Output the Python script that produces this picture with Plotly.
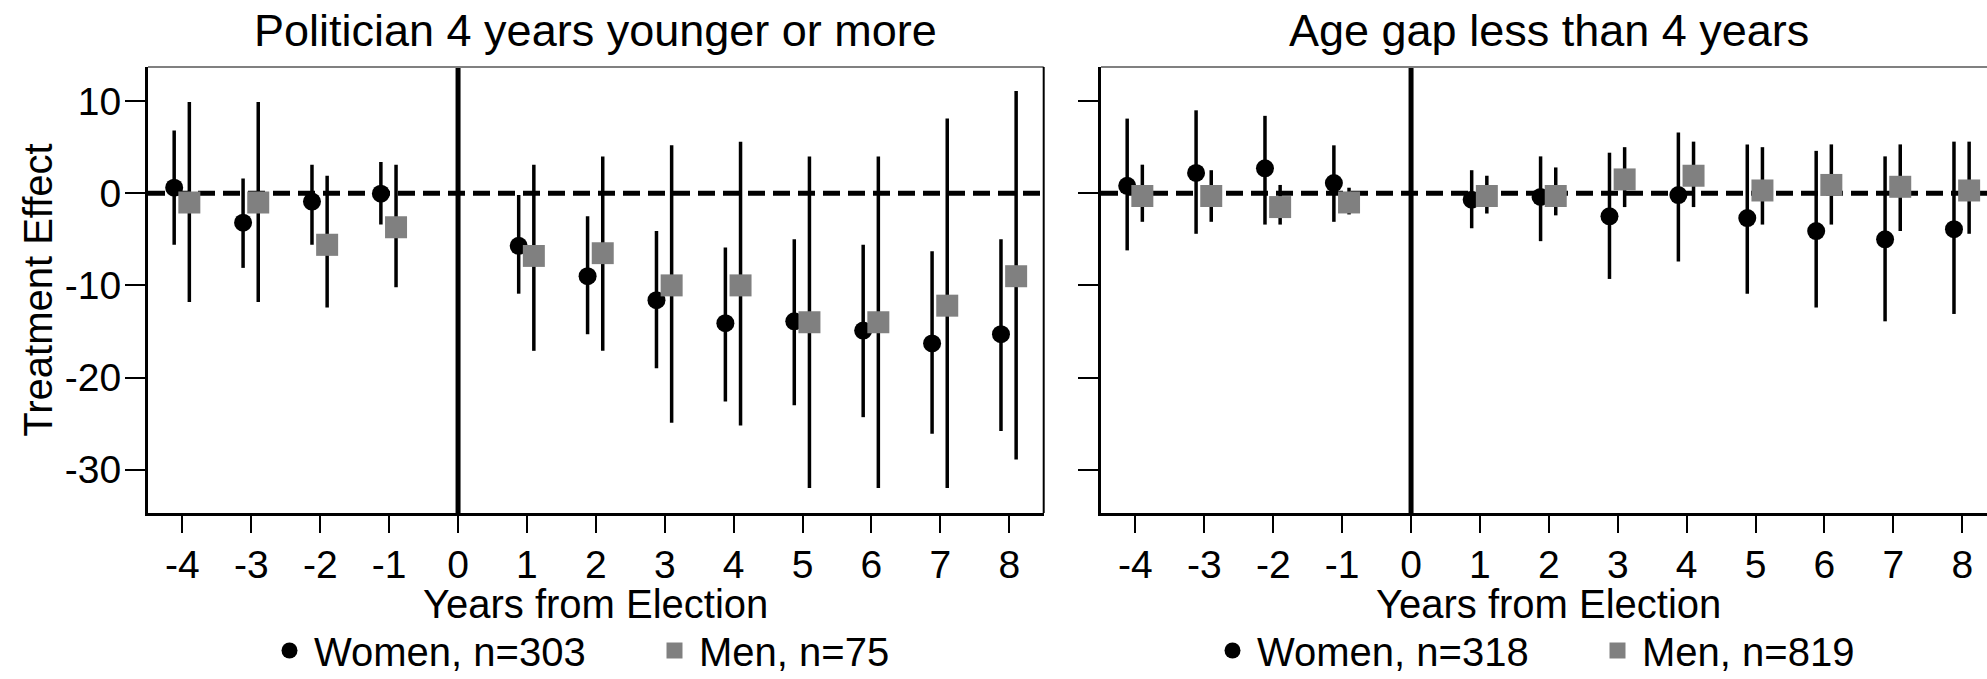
import numpy as np
import plotly.graph_objects as go

# ---------------- data ----------------
years = [-4, -3, -2, -1, 1, 2, 3, 4, 5, 6, 7, 8]
xtick_vals = list(range(-4, 9))
xtick_text = [str(v) for v in xtick_vals]
ytick_vals = [10, 0, -10, -20, -30]
ytick_text = ["10", "0", "-10", "-20", "-30"]

panel_titles = ["Politician 4 years younger or more", "Age gap less than 4 years"]
x_title = "Years from Election"
y_title = "Treatment Effect"
legend_names = [["Women, n=303", "Men, n=75"], ["Women, n=318", "Men, n=819"]]

# Panel 1: Politician 4 years younger or more
young_women_est = [0.6, -3.2, -0.9, -0.05, -5.7, -9.0, -11.6, -14.1, -13.9, -14.9, -16.3, -15.3]
young_women_lo = [-5.6, -8.1, -5.6, -3.4, -10.9, -15.3, -19.0, -22.6, -23.0, -24.3, -26.1, -25.8]
young_women_hi = [6.8, 1.6, 3.1, 3.4, -0.2, -2.5, -4.1, -5.9, -5.0, -5.6, -6.3, -5.0]
young_men_est = [-1.0, -1.0, -5.6, -3.7, -6.8, -6.5, -10.0, -10.0, -14.0, -14.0, -12.2, -9.0]
young_men_lo = [-11.8, -11.8, -12.4, -10.2, -17.1, -17.1, -24.9, -25.2, -32.0, -32.0, -32.0, -28.9]
young_men_hi = [9.9, 9.9, 1.9, 3.1, 3.1, 4.0, 5.2, 5.6, 4.0, 4.0, 8.1, 11.1]

# Panel 2: Age gap less than 4 years
gap_women_est = [0.8, 2.2, 2.7, 1.1, -0.7, -0.4, -2.5, -0.2, -2.7, -4.1, -5.0, -3.9]
gap_women_lo = [-6.2, -4.4, -3.4, -3.1, -3.8, -5.2, -9.3, -7.4, -10.9, -12.4, -13.9, -13.1]
gap_women_hi = [8.1, 9.0, 8.4, 5.2, 2.5, 4.0, 4.4, 6.6, 5.3, 4.6, 4.0, 5.6]
gap_men_est = [-0.3, -0.3, -1.5, -1.0, -0.3, -0.3, 1.5, 1.9, 0.3, 0.9, 0.7, 0.3]
gap_men_lo = [-3.1, -3.1, -3.4, -2.3, -2.2, -2.4, -1.5, -1.5, -3.4, -3.4, -4.1, -4.4]
gap_men_hi = [3.1, 2.5, 0.9, 0.6, 1.9, 2.8, 5.0, 5.6, 5.0, 5.3, 5.3, 5.6]

# ---------------- style ----------------
FONT = "Liberation Sans, Arial, sans-serif"
W, H = 1987, 679
ML, MR, MT, MB = 148, 0, 67, 166
PW = W - ML - MR
PH = H - MT - MB
WOMEN_OFF, MEN_OFF = -0.12, 0.10
GRAY = "#808080"


def px_x(p):
    return (p - ML) / PW


def px_y(p):
    return (H - MB - p) / PH


dom1 = [0, px_x(1043.7)]
dom2 = [px_x(1101), 1]
xr1 = [-4.5, 8.5]
xr2 = [-4.5, -4.5 + (W - 1101) / ((1043.7 - 148) / 13.0)]
yr = [-34.7, 13.7]

fig = go.Figure()

panels = [
    ("x", "y", "legend", young_women_est, young_women_lo, young_women_hi,
     young_men_est, young_men_lo, young_men_hi, legend_names[0]),
    ("x2", "y2", "legend2", gap_women_est, gap_women_lo, gap_women_hi,
     gap_men_est, gap_men_lo, gap_men_hi, legend_names[1]),
]

for xa, ya, lg, w_est, w_lo, w_hi, m_est, m_lo, m_hi, names in panels:
    w_est_a, w_lo_a, w_hi_a = map(np.array, (w_est, w_lo, w_hi))
    m_est_a, m_lo_a, m_hi_a = map(np.array, (m_est, m_lo, m_hi))
    fig.add_trace(go.Scatter(
        x=np.array(years) + WOMEN_OFF, y=w_est_a, mode="markers", name=names[0],
        marker=dict(symbol="circle", size=18, color="black"),
        error_y=dict(type="data", symmetric=False, array=w_hi_a - w_est_a,
                     arrayminus=w_est_a - w_lo_a, width=0, thickness=3.5, color="black"),
        xaxis=xa, yaxis=ya, legend=lg, cliponaxis=True,
    ))
    fig.add_trace(go.Scatter(
        x=np.array(years) + MEN_OFF, y=m_est_a, mode="markers", name=names[1],
        marker=dict(symbol="square", size=22, color=GRAY),
        error_y=dict(type="data", symmetric=False, array=m_hi_a - m_est_a,
                     arrayminus=m_est_a - m_lo_a, width=0, thickness=3.5, color="black"),
        xaxis=xa, yaxis=ya, legend=lg, cliponaxis=True,
    ))

axis_common = dict(showgrid=False, zeroline=False, showline=True, linecolor="black",
                   linewidth=3, ticks="outside", tickcolor="black", tickwidth=2,
                   tickfont=dict(family=FONT, size=39, color="black"))

legend_common = dict(orientation="h", xanchor="left", y=px_y(683), yanchor="bottom",
                     font=dict(family=FONT, size=40), bgcolor="rgba(0,0,0,0)",
                     entrywidth=331, itemwidth=39, tracegroupgap=0)

fig.update_layout(
    width=W, height=H,
    margin=dict(l=ML, r=MR, t=MT, b=MB, pad=0, autoexpand=False),
    paper_bgcolor="white", plot_bgcolor="white",
    font=dict(family=FONT, color="black"),
    xaxis=dict(domain=dom1, range=xr1, tickmode="array", tickvals=xtick_vals, ticktext=xtick_text,
               ticklen=17, anchor="y", ticklabelstandoff=-2, **axis_common),
    xaxis2=dict(domain=dom2, range=xr2, tickmode="array", tickvals=xtick_vals, ticktext=xtick_text,
                ticklen=17, anchor="y2", ticklabelstandoff=-2, **axis_common),
    yaxis=dict(domain=[0, 1], range=yr, tickmode="array", tickvals=ytick_vals, ticktext=ytick_text,
               ticklen=20, anchor="x", ticklabelstandoff=-4,
               title=dict(text=y_title, font=dict(family=FONT, size=40), standoff=0),
               **axis_common),
    yaxis2=dict(domain=[0, 1], range=yr, tickmode="array", tickvals=ytick_vals, ticktext=ytick_text,
                ticklen=20, anchor="x2", showticklabels=False, **axis_common),
    legend=dict(x=px_x(265), **legend_common),
    legend2=dict(x=px_x(1208), **legend_common),
    showlegend=True,
)

shapes = []
for xa, ya in (("x", "y"), ("x2", "y2")):
    # dashed zero line
    shapes.append(dict(type="line", xref=f"{xa} domain", x0=0, x1=1, yref=ya, y0=0, y1=0,
                       line=dict(color="black", width=5, dash="17px,8px"), layer="below"))
    # vertical line at election
    shapes.append(dict(type="line", xref=xa, x0=0, x1=0, yref=f"{ya} domain", y0=0, y1=1,
                       line=dict(color="black", width=5), layer="below"))
    # top frame (gray)
    shapes.append(dict(type="line", xref=f"{xa} domain", x0=0, x1=1, yref=f"{ya} domain", y0=1, y1=1,
                       line=dict(color=GRAY, width=2), layer="above"))
# right frame of left panel
shapes.append(dict(type="line", xref="x domain", x0=1, x1=1, yref="y domain", y0=0, y1=1,
                   line=dict(color="black", width=2), layer="above"))
fig.update_layout(shapes=shapes)

annotations = []
for title, cx in zip(panel_titles, (595.5, 1549)):
    annotations.append(dict(text=title, xref="paper", yref="paper", x=px_x(cx), y=px_y(31),
                            xanchor="center", yanchor="middle", showarrow=False,
                            font=dict(family=FONT, size=45, color="black")))
for cx in (595, 1548):
    annotations.append(dict(text=x_title, xref="paper", yref="paper", x=px_x(cx), y=px_y(604),
                            xanchor="center", yanchor="middle", showarrow=False,
                            font=dict(family=FONT, size=40, color="black")))
fig.update_layout(annotations=annotations)

fig.write_html("out.html")
